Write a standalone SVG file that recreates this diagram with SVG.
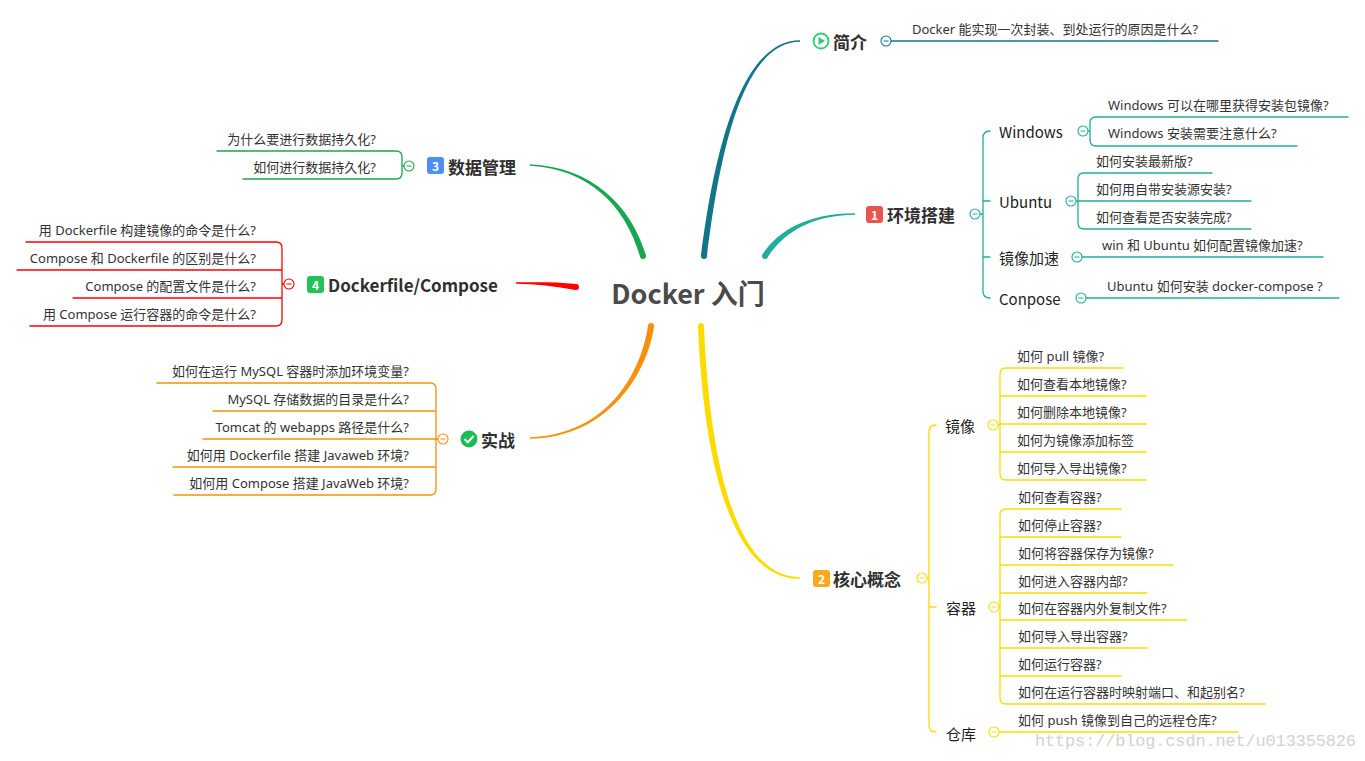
<svg xmlns="http://www.w3.org/2000/svg" xmlns:xlink="http://www.w3.org/1999/xlink" width="1365" height="761" viewBox="0 0 1365 761">
<style>
text{font-family:"Noto Sans CJK SC","Noto Sans",sans-serif;fill:#333;dominant-baseline:central}
.q{font-family:"Noto Sans","Noto Sans CJK SC",sans-serif;font-size:13px}
.e{text-anchor:end}
.s{font-size:15px;fill:#222}
.m{font-size:17px;font-weight:bold;fill:#2f2f2f}
.b{font-size:12px;font-weight:bold;fill:#fff;text-anchor:middle}
.ln{fill:none;stroke-width:1.3;stroke-linecap:round}
.c1{stroke:#12758a;color:#12758a}
.c2{stroke:#1fae9b;color:#1fae9b}
.c3{stroke:#1aa64f;color:#1aa64f}
.c4{stroke:#f00;color:#f00}
.c5{stroke:#f7900a;color:#f7900a}
.c6{stroke:#fedb00;color:#fedb00}
</style>
<defs>
<g id="col"><circle r="5" fill="#fff" stroke="currentColor" stroke-width="1.1"/><path d="M-2.5,0h5" stroke="currentColor" stroke-width="1"/></g>
</defs>
<rect width="1365" height="761" fill="#fff"/>

<g id="connectors">
 <path fill="#12758a" d="M707,256 C719,160 741,42 800,41.8 L800,40.2 C739,40 713,160 701,256 Z"/>
 <circle cx="704" cy="256" r="3" fill="#12758a"/>
 <path fill="#1fae9b" d="M767.5,257.6 C782,234 811,215 855,214.8 L855,213.2 C809,213 778,230 762.5,254.4 Z"/>
 <circle cx="765" cy="256" r="3" fill="#1fae9b"/>
 <path fill="#1aa64f" d="M645.9,255.2 C630.5,204 591,167.2 530,164.2 L530,165.8 C589,169 625.5,206 640.1,256.8 Z"/>
 <circle cx="643" cy="256" r="3" fill="#1aa64f"/>
 <path fill="#f00" d="M576.4,284 C555,281.5 535,282.3 516,282.2 L516,283.8 C535,284 555,286.5 575.6,290 Z"/>
 <circle cx="576" cy="287" r="3" fill="#f00"/>
 <path fill="#f7900a" d="M648,325.6 C642,370 609,435 530,437.2 L530,438.8 C611,437 648,370 654,326.4 Z"/>
 <circle cx="651" cy="326" r="3" fill="#f7900a"/>
 <path fill="#fedb00" d="M698,326 C703,451 728,579 800,578.8 L800,577.2 C732,577 709,449 704,326 Z"/>
 <circle cx="701" cy="326" r="3" fill="#fedb00"/>

 <path class="ln c1" d="M891,41 H1218"/>
 <path class="ln c2" d="M980,214 H983 M990,131 Q983,131 983,138 V291 Q983,298 990,298 M983,201 H990 M983,257 H990"/>
 <path class="ln c2" d="M1088,131 H1090 M1348,117 H1096 Q1090,117 1090,123 V140 Q1090,146 1096,146 H1297"/>
 <path class="ln c2" d="M1076,201 H1078 M1212,173 H1084 Q1078,173 1078,179 V223 Q1078,229 1084,229 H1251 M1078,201 H1251"/>
 <path class="ln c2" d="M1082,257 H1323"/>
 <path class="ln c2" d="M1086,298 H1339"/>
 <path class="ln c3" d="M404,166 H402 M217,151 H396 Q402,151 402,157 V173 Q402,179 396,179 H243"/>
 <path class="ln c4" d="M284,284 H282 M26,242 H276 Q282,242 282,248 V320 Q282,326 276,326 H30 M17,270 H282 M73,298 H282"/>
 <path class="ln c5" d="M438,439 H436 M157,383 H430 Q436,383 436,389 V489 Q436,495 430,495 H174 M213,411 H436 M203,439 H436 M173,467 H436"/>
 <path class="ln c6" d="M927,578 H929 M936,425 Q929,425 929,432 V725 Q929,732 936,732 M929,607 H936"/>
 <path class="ln c6" d="M998,425 H1000 M1123,368 H1006 Q1000,368 1000,374 V474 Q1000,480 1006,480 H1146 M1000,396 H1146 M1000,424 H1146 M1000,452 H1146"/>
 <path class="ln c6" d="M999,607 H1000 M1121,509 H1006 Q1000,509 1000,515 V698 Q1000,704 1006,704 H1265 M1000,537 H1121 M1000,565 H1173 M1000,593 H1147 M1000,620 H1187 M1000,648 H1147 M1000,676 H1121"/>
 <path class="ln c6" d="M999,732 H1238"/>
</g>

<g id="center"><text x="688" y="292" style="font-size:27px;font-weight:bold;fill:#4a4a4a;text-anchor:middle">Docker 入门</text></g>

<g id="node-intro">
 <circle cx="821" cy="41" r="7.5" fill="#fff" stroke="#2ecc71" stroke-width="1.8"/>
 <path d="M818.5,37 L825,41 L818.5,45 Z" fill="#2ecc71"/>
 <text class="m" x="833" y="41">简介</text>
 <use href="#col" x="886" y="41" class="c1"/>
 <text class="q" x="912" y="29">Docker 能实现一次封装、到处运行的原因是什么?</text>
</g>

<g id="node-env">
 <rect x="866" y="206" width="17" height="17" rx="3" fill="#ea5450"/>
 <text class="b" x="874.5" y="214.5">1</text>
 <text class="m" x="887" y="214">环境搭建</text>
 <use href="#col" x="975" y="214" class="c2"/>
 <g id="node-windows">
  <text class="s" x="999" y="131">Windows</text>
  <use href="#col" x="1083" y="131" class="c2"/>
  <text class="q" x="1108" y="104.5">Windows 可以在哪里获得安装包镜像?</text>
  <text class="q" x="1108" y="132.5">Windows 安装需要注意什么?</text>
 </g>
 <g id="node-ubuntu">
  <text class="s" x="999" y="201">Ubuntu</text>
  <use href="#col" x="1071" y="201" class="c2"/>
  <text class="q" x="1096" y="160.5">如何安装最新版?</text>
  <text class="q" x="1096" y="188.5">如何用自带安装源安装?</text>
  <text class="q" x="1096" y="216.5">如何查看是否安装完成?</text>
 </g>
 <g id="node-mirror">
  <text class="s" x="999" y="257">镜像加速</text>
  <use href="#col" x="1077" y="257" class="c2"/>
  <text class="q" x="1102" y="244.5">win 和 Ubuntu 如何配置镜像加速?</text>
 </g>
 <g id="node-conpose">
  <text class="s" x="999" y="298">Conpose</text>
  <use href="#col" x="1081" y="298" class="c2"/>
  <text class="q" x="1107" y="285.5">Ubuntu 如何安装 docker-compose ?</text>
 </g>
</g>

<g id="node-data">
 <rect x="427" y="157" width="17" height="17" rx="3" fill="#4f8ef5"/>
 <text class="b" x="435.5" y="165.5">3</text>
 <text class="m" x="448" y="166">数据管理</text>
 <use href="#col" x="409" y="166" class="c3"/>
 <text class="q e" x="376" y="138.5">为什么要进行数据持久化?</text>
 <text class="q e" x="376" y="166.5">如何进行数据持久化?</text>
</g>

<g id="node-dockerfile">
 <rect x="307" y="276" width="17" height="17" rx="3" fill="#1fc35a"/>
 <text class="b" x="315.5" y="284.5">4</text>
 <text class="m" x="328" y="284">Dockerfile/Compose</text>
 <use href="#col" x="289" y="284" class="c4"/>
 <text class="q e" x="256" y="229.5">用 Dockerfile 构建镜像的命令是什么?</text>
 <text class="q e" x="256" y="257.5">Compose 和 Dockerfile 的区别是什么?</text>
 <text class="q e" x="256" y="285.5">Compose 的配置文件是什么?</text>
 <text class="q e" x="256" y="313.5">用 Compose 运行容器的命令是什么?</text>
</g>

<g id="node-practice">
 <circle cx="469" cy="439" r="8.5" fill="#1dbb57"/>
 <path d="M464.5,439 L467.8,442.3 L473.5,436" fill="none" stroke="#fff" stroke-width="2"/>
 <text class="m" x="481" y="439">实战</text>
 <use href="#col" x="443" y="439" class="c5"/>
 <text class="q e" x="409" y="370.5">如何在运行 MySQL 容器时添加环境变量?</text>
 <text class="q e" x="409" y="398.5">MySQL 存储数据的目录是什么?</text>
 <text class="q e" x="409" y="426.5">Tomcat 的 webapps 路径是什么?</text>
 <text class="q e" x="409" y="454.5">如何用 Dockerfile 搭建 Javaweb 环境?</text>
 <text class="q e" x="409" y="482.5">如何用 Compose 搭建 JavaWeb 环境?</text>
</g>

<g id="node-core">
 <rect x="813" y="570" width="17" height="17" rx="3" fill="#f8a91c"/>
 <text class="b" x="821.5" y="578.5">2</text>
 <text class="m" x="833" y="578">核心概念</text>
 <use href="#col" x="922" y="578" class="c6"/>
 <g id="node-image">
  <text class="s" x="945" y="425">镜像</text>
  <use href="#col" x="993" y="425" class="c6"/>
  <text class="q" x="1017" y="355.5">如何 pull 镜像?</text>
  <text class="q" x="1017" y="383.5">如何查看本地镜像?</text>
  <text class="q" x="1017" y="411.5">如何删除本地镜像?</text>
  <text class="q" x="1017" y="439.5">如何为镜像添加标签</text>
  <text class="q" x="1017" y="467.5">如何导入导出镜像?</text>
 </g>
 <g id="node-container">
  <text class="s" x="946" y="607">容器</text>
  <use href="#col" x="994" y="607" class="c6"/>
  <text class="q" x="1018" y="496.5">如何查看容器?</text>
  <text class="q" x="1018" y="524.5">如何停止容器?</text>
  <text class="q" x="1018" y="552.5">如何将容器保存为镜像?</text>
  <text class="q" x="1018" y="580.5">如何进入容器内部?</text>
  <text class="q" x="1018" y="607.5">如何在容器内外复制文件?</text>
  <text class="q" x="1018" y="635.5">如何导入导出容器?</text>
  <text class="q" x="1018" y="663.5">如何运行容器?</text>
  <text class="q" x="1018" y="691.5">如何在运行容器时映射端口、和起别名?</text>
 </g>
 <g id="node-repo">
  <text class="s" x="946" y="733">仓库</text>
  <use href="#col" x="994" y="732" class="c6"/>
  <text class="q" x="1018" y="719.5">如何 push 镜像到自己的远程仓库?</text>
 </g>
</g>

<text x="1035" y="741" textLength="321" style="font-family:'Liberation Mono',monospace;font-size:17px;fill:#d2d2d2">https://blog.csdn.net/u013355826</text>
</svg>
